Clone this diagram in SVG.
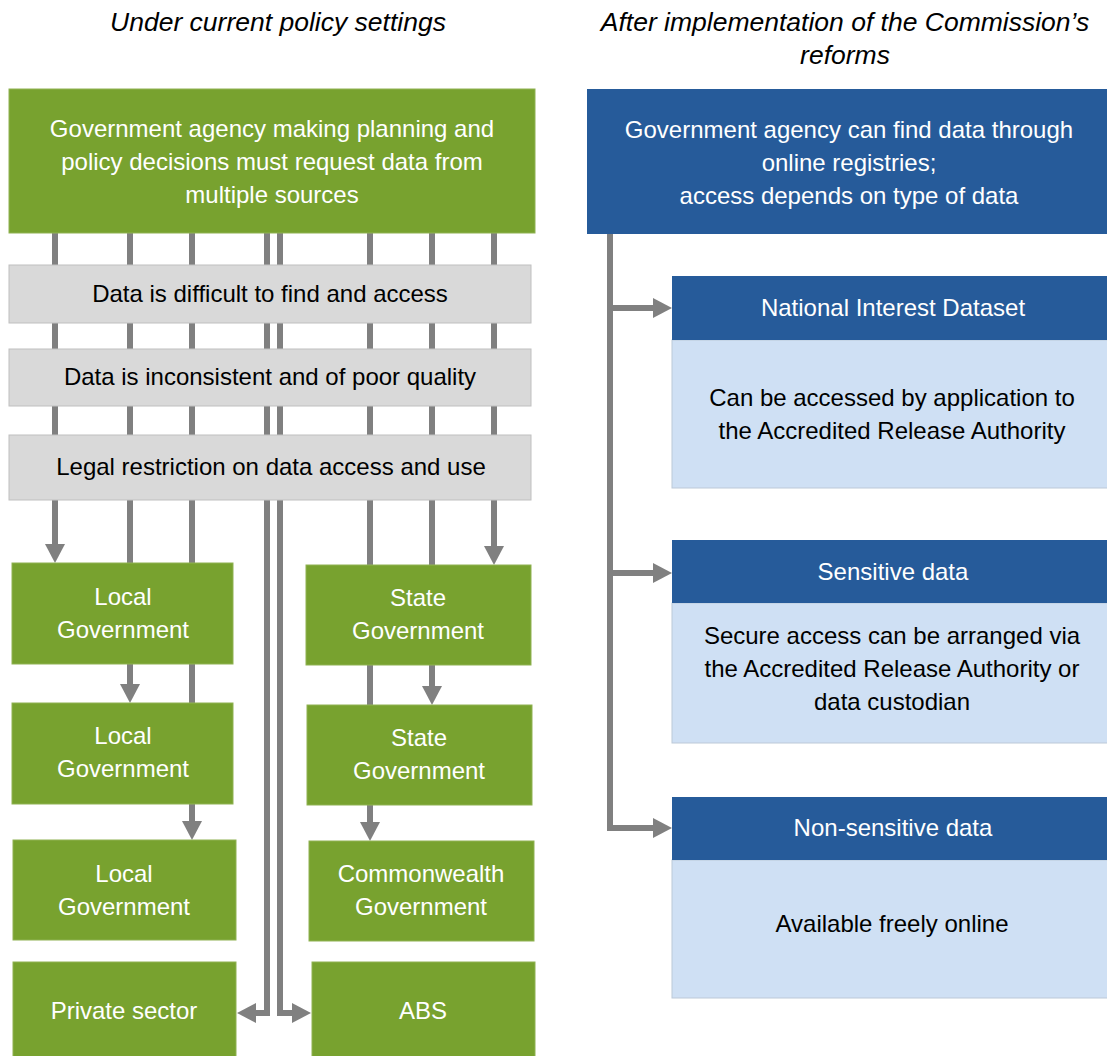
<svg xmlns="http://www.w3.org/2000/svg" width="1107" height="1056" viewBox="0 0 1107 1056">
<style>
text{font-family:"Liberation Sans",Arial,sans-serif;font-size:24px;text-anchor:middle}
.t{font-style:italic;font-size:26.5px;fill:#000}
.w{fill:#fff}
.k{fill:#000}
.g{fill:#78a22f;stroke:#8fb253;stroke-width:1}
.gr{fill:#d9d9d9;stroke:#bfbfbf;stroke-width:1}
.b{fill:#265b9a}
.lb{fill:#cfe0f4;stroke:#bcc9d8;stroke-width:1}
.c{fill:none;stroke:#808080;stroke-width:6;marker-end:url(#ah)}
.cn{fill:none;stroke:#808080;stroke-width:6}
</style>
<defs>
<marker id="ah" markerUnits="userSpaceOnUse" markerWidth="20" markerHeight="20" refX="0" refY="10" orient="auto" viewBox="0 0 20 20">
<path d="M0,0 L19,10 L0,20 Z" fill="#808080"/>
</marker>
</defs>
<rect width="1107" height="1056" fill="#fff"/>
<text class="t" x="278" y="31">Under current policy settings</text>
<text class="t" x="845" y="31">After implementation of the Commission’s</text>
<text class="t" x="845" y="64">reforms</text>
<g id="connectors">
<path class="c" d="M55 233 V544"/>
<path class="c" d="M130 233 V684"/>
<path class="c" d="M192 233 V821"/>
<path class="c" d="M267 233 V1013 H256" stroke-linejoin="miter"/>
<path class="c" d="M280 233 V1013 H292" stroke-linejoin="miter"/>
<path class="c" d="M370 233 V822"/>
<path class="c" d="M432 233 V686"/>
<path class="c" d="M494 233 V546"/>
<path class="cn" d="M610 234 V831"/>
<path class="c" d="M607 308 H653"/>
<path class="c" d="M607 573 H653"/>
<path class="c" d="M607 828 H653"/>
</g>
<g id="top-left">
<rect class="g" x="9" y="89" width="526" height="144"/>
<text class="w" x="272" y="137">Government agency making planning and</text>
<text class="w" x="272" y="170">policy decisions must request data from</text>
<text class="w" x="272" y="203">multiple sources</text>
</g>
<g id="barrier-1">
<rect class="gr" x="9" y="265" width="522" height="58"/>
<text class="k" x="270" y="302">Data is difficult to find and access</text>
</g>
<g id="barrier-2">
<rect class="gr" x="9" y="349" width="522" height="57"/>
<text class="k" x="270" y="385">Data is inconsistent and of poor quality</text>
</g>
<g id="barrier-3">
<rect class="gr" x="9" y="435" width="522" height="65"/>
<text class="k" x="271" y="475">Legal restriction on data access and use</text>
</g>
<g id="local-1">
<rect class="g" x="12" y="563" width="221" height="101"/>
<text class="w" x="123" y="605">Local</text>
<text class="w" x="123" y="638">Government</text>
</g>
<g id="local-2">
<rect class="g" x="12" y="703" width="221" height="101"/>
<text class="w" x="123" y="744">Local</text>
<text class="w" x="123" y="777">Government</text>
</g>
<g id="local-3">
<rect class="g" x="13" y="840" width="223" height="100"/>
<text class="w" x="124" y="882">Local</text>
<text class="w" x="124" y="915">Government</text>
</g>
<g id="private">
<rect class="g" x="13" y="962" width="223" height="100"/>
<text class="w" x="124" y="1019">Private sector</text>
</g>
<g id="state-1">
<rect class="g" x="306" y="565" width="225" height="100"/>
<text class="w" x="418" y="606">State</text>
<text class="w" x="418" y="639">Government</text>
</g>
<g id="state-2">
<rect class="g" x="307" y="705" width="225" height="100"/>
<text class="w" x="419" y="746">State</text>
<text class="w" x="419" y="779">Government</text>
</g>
<g id="commonwealth">
<rect class="g" x="309" y="841" width="225" height="100"/>
<text class="w" x="421" y="882">Commonwealth</text>
<text class="w" x="421" y="915">Government</text>
</g>
<g id="abs">
<rect class="g" x="312" y="962" width="223" height="100"/>
<text class="w" x="423" y="1019">ABS</text>
</g>
<g id="top-right">
<rect class="b" x="587" y="89" width="520" height="145"/>
<text class="w" x="849" y="138">Government agency can find data through</text>
<text class="w" x="849" y="171">online registries;</text>
<text class="w" x="849" y="204">access depends on type of data</text>
</g>
<g id="national-interest">
<rect class="lb" x="672" y="340" width="440" height="148"/>
<rect class="b" x="672" y="276" width="435" height="64"/>
<text class="w" x="893" y="316">National Interest Dataset</text>
<text class="k" x="892" y="406">Can be accessed by application to</text>
<text class="k" x="892" y="439">the Accredited Release Authority</text>
</g>
<g id="sensitive">
<rect class="lb" x="672" y="603" width="440" height="140"/>
<rect class="b" x="672" y="540" width="435" height="63"/>
<text class="w" x="893" y="580">Sensitive data</text>
<text class="k" x="892" y="644">Secure access can be arranged via</text>
<text class="k" x="892" y="677">the Accredited Release Authority or</text>
<text class="k" x="892" y="710">data custodian</text>
</g>
<g id="non-sensitive">
<rect class="lb" x="672" y="860" width="440" height="138"/>
<rect class="b" x="672" y="797" width="435" height="63"/>
<text class="w" x="893" y="836">Non-sensitive data</text>
<text class="k" x="892" y="932">Available freely online</text>
</g>
</svg>
